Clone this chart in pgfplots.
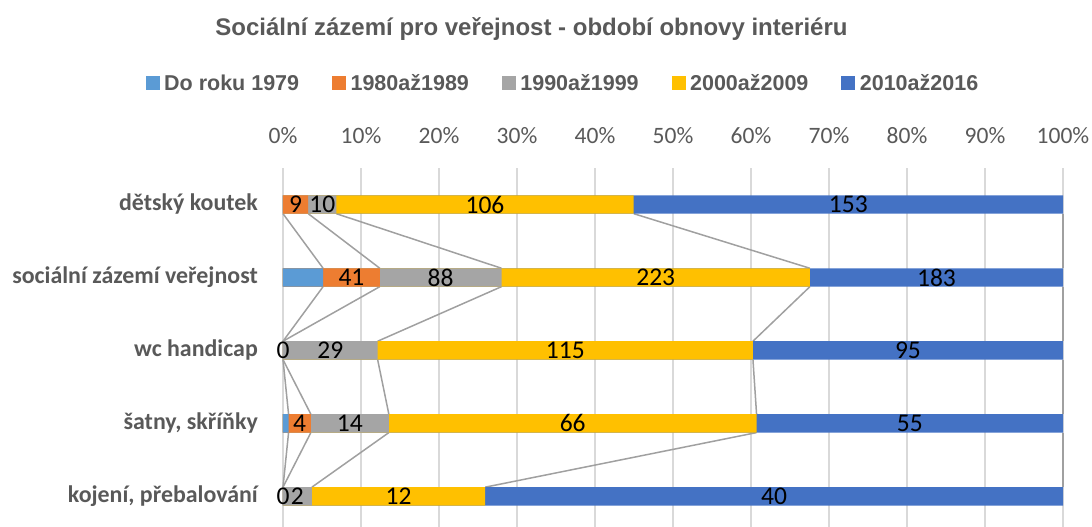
\documentclass[border=0pt]{standalone}
\usepackage{pgfplots}
\usepackage{pgfplotstable}
\pgfplotsset{compat=1.18}
\usepackage{fontspec}
\setmainfont{Carlito}
\newfontfamily\arialf{Liberation Sans}

\definecolor{cLB}{HTML}{5B9BD5}
\definecolor{cOR}{HTML}{ED7D31}
\definecolor{cGR}{HTML}{A5A5A5}
\definecolor{cYE}{HTML}{FFC000}
\definecolor{cBL}{HTML}{4472C4}
\definecolor{txt}{HTML}{595959}
\definecolor{grd}{HTML}{D9D9D9}
\definecolor{sln}{HTML}{A0A0A0}

% raw counts per category: a = Do roku 1979, b = 1980-1989, c = 1990-1999, d = 2000-2009, e = 2010-2016
\pgfplotstableread{
idx a  b  c  d   e
0   0  9  10 106 153
1   29 41 88 223 183
2   0  0  29 115 95
3   1  4  14 66  55
4   0  0  2  12  40
}\data
\pgfplotstablecreatecol[create col/expr={\thisrow{a}+\thisrow{b}+\thisrow{c}+\thisrow{d}+\thisrow{e}}]{tot}\data
\pgfplotstablecreatecol[create col/expr={100*\thisrow{a}/\thisrow{tot}}]{ca}\data
\pgfplotstablecreatecol[create col/expr={100*(\thisrow{a}+\thisrow{b})/\thisrow{tot}}]{cb}\data
\pgfplotstablecreatecol[create col/expr={100*(\thisrow{a}+\thisrow{b}+\thisrow{c})/\thisrow{tot}}]{cc}\data
\pgfplotstablecreatecol[create col/expr={100*(\thisrow{a}+\thisrow{b}+\thisrow{c}+\thisrow{d})/\thisrow{tot}}]{cd}\data
\pgfplotstablecreatecol[create col/expr={100}]{ce}\data
\pgfplotstablecreatecol[create col/expr={(\thisrow{ca}+\thisrow{cb})/2}]{mb}\data
\pgfplotstablecreatecol[create col/expr={(\thisrow{cb}+\thisrow{cc})/2}]{mc}\data
\pgfplotstablecreatecol[create col/expr={(\thisrow{cc}+\thisrow{cd})/2}]{md}\data
\pgfplotstablecreatecol[create col/expr={(\thisrow{cd}+100)/2}]{me}\data

\begin{document}
\begin{tikzpicture}
\path[use as bounding box] (-283pt,168pt) rectangle (809pt,-359pt);
\begin{axis}[
  at={(0pt,0pt)}, anchor=north west,
  scale only axis, width=780pt, height=359pt,
  xmin=0, xmax=100, ymin=-0.5, ymax=4.42,
  y dir=reverse,
  clip=false,
  axis line style={draw=none},
  tick style={draw=none},
  xtick={0,10,...,100},
  xticklabels={0\%,10\%,20\%,30\%,40\%,50\%,60\%,70\%,80\%,90\%,100\%},
  xticklabel pos=upper,
  xticklabel style={font=\fontsize{23.5}{27}\selectfont, text=txt, anchor=base, inner sep=0pt, yshift=24.5pt},
  ytick={0,1,2,3,4},
  yticklabels={dětský koutek, sociální zázemí veřejnost, wc handicap, {šatny, skříňky}, {kojení, přebalování}},
  yticklabel style={font=\fontsize{23.9}{28}\selectfont\bfseries, text=txt, anchor=base east, inner sep=0pt, xshift=-25pt, yshift=-6.5pt},
  xmajorgrids, major grid style={grd, line width=1.2pt},
  legend columns=5,
  legend style={draw=none, fill=none, at={(axis description cs:0.3577,1.2368)}, anchor=center,
     font=\arialf\bfseries\fontsize{21.5}{25}\selectfont, text=txt,
     nodes={inner sep=0pt},
     column sep=0pt,
     /tikz/every odd column/.append style={column sep=5pt},
     /tikz/every even column/.append style={column sep=33pt}},
  legend image code/.code={\fill[#1] (0pt,-6.5pt) rectangle (13pt,6.5pt);},
  serline/.style={sln, line width=1.5pt, forget plot},
  barsty/.style={xbar, bar width=18.4pt, bar shift=0pt, draw=none, forget plot},
  lab/.style={only marks, mark=none, forget plot, point meta=explicit symbolic, nodes near coords,
     every node near coord/.style={anchor=center, inner sep=0pt, font=\fontsize{25.5}{29}\selectfont, text=black}},
]
% series lines
\pgfplotsforeachungrouped \k in {ca,cb,cc,cd,ce}{%
  \pgfplotsforeachungrouped \i in {0,1,2,3}{%
    \pgfmathtruncatemacro\j{\i+1}%
    \pgfplotstablegetelem{\i}{\k}\of\data \let\xa\pgfplotsretval
    \pgfplotstablegetelem{\j}{\k}\of\data \let\xb\pgfplotsretval
    \pgfmathsetmacro\ya{\i+0.1260}%
    \pgfmathsetmacro\yb{\j-0.1260}%
    \edef\tmp{\noexpand\addplot[serline] coordinates {(\xa,\ya) (\xb,\yb)};}\tmp
  }%
}
% bars (cumulative, drawn from the longest down)
\addplot[barsty, fill=cBL] table[x=ce, y=idx]{\data};
\addplot[barsty, fill=cYE] table[x=cd, y=idx]{\data};
\addplot[barsty, fill=cGR] table[x=cc, y=idx]{\data};
\addplot[barsty, fill=cOR] table[x=cb, y=idx]{\data};
\addplot[barsty, fill=cLB] table[x=ca, y=idx]{\data};
% data labels
\addplot[lab] table[x=mb, y=idx, meta=b]{\data};
\addplot[lab] table[x=mc, y=idx, meta=c]{\data};
\addplot[lab] table[x=md, y=idx, meta=d]{\data};
\addplot[lab] table[x=me, y=idx, meta=e]{\data};
% legend
\addlegendimage{cLB}\addlegendentry{Do roku 1979}
\addlegendimage{cOR}\addlegendentry{1980až1989}
\addlegendimage{cGR}\addlegendentry{1990až1999}
\addlegendimage{cYE}\addlegendentry{2000až2009}
\addlegendimage{cBL}\addlegendentry{2010až2016}
\end{axis}
\node[anchor=base, font=\arialf\bfseries\fontsize{24}{28}\selectfont, text=txt] at (248.5pt,132.5pt) {Sociální zázemí pro veřejnost - období obnovy interiéru};
\end{tikzpicture}
\end{document}
